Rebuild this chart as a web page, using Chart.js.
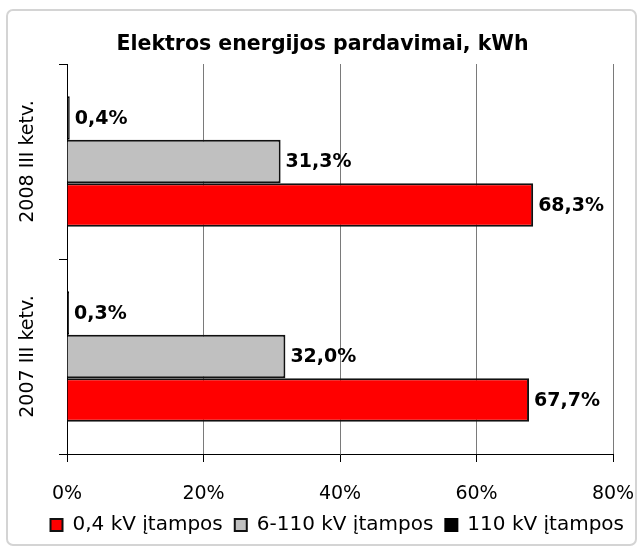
<!DOCTYPE html>
<html>
<head>
<meta charset="utf-8">
<script src="https://cdn.jsdelivr.net/npm/chart.js@4.4.1/dist/chart.umd.min.js"></script>
<style>
html,body{margin:0;padding:0;background:#fff;}
canvas{display:block;}
</style>
</head>
<body>
<canvas id="c" width="639" height="548"></canvas>
<script>
const categories = ['2008 III ketv.', '2007 III ketv.'];
const seriesNames = ['110 kV įtampos', '6-110 kV įtampos', '0,4 kV įtampos'];
const values110 = [0.4, 0.3];
const values6_110 = [31.3, 32.0];
const values04 = [68.3, 67.7];
const xTicks = [0, 20, 40, 60, 80];
const titleText = 'Elektros energijos pardavimai, kWh';

const FONT = "'DejaVu Sans', sans-serif";

const frame = {
  id: 'frame',
  beforeDraw(chart) {
    const ctx = chart.ctx;
    ctx.save();
    ctx.fillStyle = '#fff';
    ctx.fillRect(0, 0, chart.width, chart.height);
    ctx.strokeStyle = '#d4d4d4';
    ctx.lineWidth = 2;
    ctx.beginPath();
    ctx.roundRect(7, 10, 629, 535, 6);
    ctx.stroke();
    ctx.restore();
  }
};

const catLabels = {
  id: 'catLabels',
  afterDraw(chart) {
    const ctx = chart.ctx;
    const y = chart.scales.y;
    ctx.save();
    ctx.fillStyle = '#000';
    ctx.font = "19px " + FONT;
    ctx.textAlign = 'center';
    ctx.textBaseline = 'middle';
    categories.forEach((c, i) => {
      const py = y.getPixelForTick(i);
      ctx.save();
      ctx.translate(28, py);
      ctx.rotate(-Math.PI / 2);
      ctx.fillText(c, 0, 0);
      ctx.restore();
    });
    ctx.restore();
  }
};

const dataLabels = {
  id: 'dataLabels',
  afterDatasetsDraw(chart) {
    const ctx = chart.ctx;
    ctx.save();
    ctx.fillStyle = '#000';
    ctx.font = "bold 19px " + FONT;
    ctx.textAlign = 'left';
    ctx.textBaseline = 'middle';
    chart.data.datasets.forEach((ds, di) => {
      const meta = chart.getDatasetMeta(di);
      meta.data.forEach((el, i) => {
        const v = ds.data[i];
        const txt = v.toFixed(1).replace('.', ',') + '%';
        ctx.fillText(txt, el.x + 5, el.y + 1);
      });
    });
    ctx.restore();
  }
};

new Chart(document.getElementById('c'), {
  type: 'bar',
  data: {
    labels: categories,
    datasets: [
      { label: seriesNames[0], data: values110, backgroundColor: '#000000', borderColor: '#000000', borderWidth: 2 },
      { label: seriesNames[1], data: values6_110, backgroundColor: '#c0c0c0', borderColor: '#111111', borderWidth: 2 },
      { label: seriesNames[2], data: values04, backgroundColor: '#ff0000', borderColor: '#111111', borderWidth: 2 }
    ]
  },
  options: {
    indexAxis: 'y',
    responsive: false,
    animation: false,
    devicePixelRatio: 1,
    categoryPercentage: 0.67,
    barPercentage: 1.0,
    layout: { padding: { left: 9, right: 3, top: 0, bottom: 3 } },
    plugins: {
      title: {
        display: true,
        text: titleText,
        color: '#000',
        font: { family: FONT, size: 20.5, weight: 'bold' },
        padding: { top: 32.7, bottom: 6.7 }
      },
      legend: {
        display: true,
        position: 'bottom',
        align: 'end',
        reverse: true,
        labels: {
          color: '#000',
          font: { family: FONT, size: 20 },
          boxWidth: 12,
          boxHeight: 12,
          padding: 12
        }
      },
      tooltip: { enabled: false }
    },
    scales: {
      x: {
        min: 0,
        max: 80,
        afterBuildTicks(scale) { scale.ticks = xTicks.map(v => ({ value: v })); },
        afterFit(scale) { scale.height = 49; scale.paddingLeft = 0; scale.paddingRight = 26; },
        ticks: {
          color: '#000',
          font: { family: FONT, size: 19 },
          padding: 21,
          callback: v => v + '%'
        },
        grid: { color: '#7a7a7a', lineWidth: 1, drawTicks: true, tickLength: 8, tickColor: '#000' },
        border: { color: '#000', width: 1 }
      },
      y: {
        afterFit(scale) { scale.width = 58; },
        ticks: { display: false },
        grid: { drawOnChartArea: false, drawTicks: true, tickLength: 8, color: '#000', offset: true },
        border: { color: '#000', width: 1 }
      }
    }
  },
  plugins: [frame, catLabels, dataLabels]
});
</script>
</body>
</html>
